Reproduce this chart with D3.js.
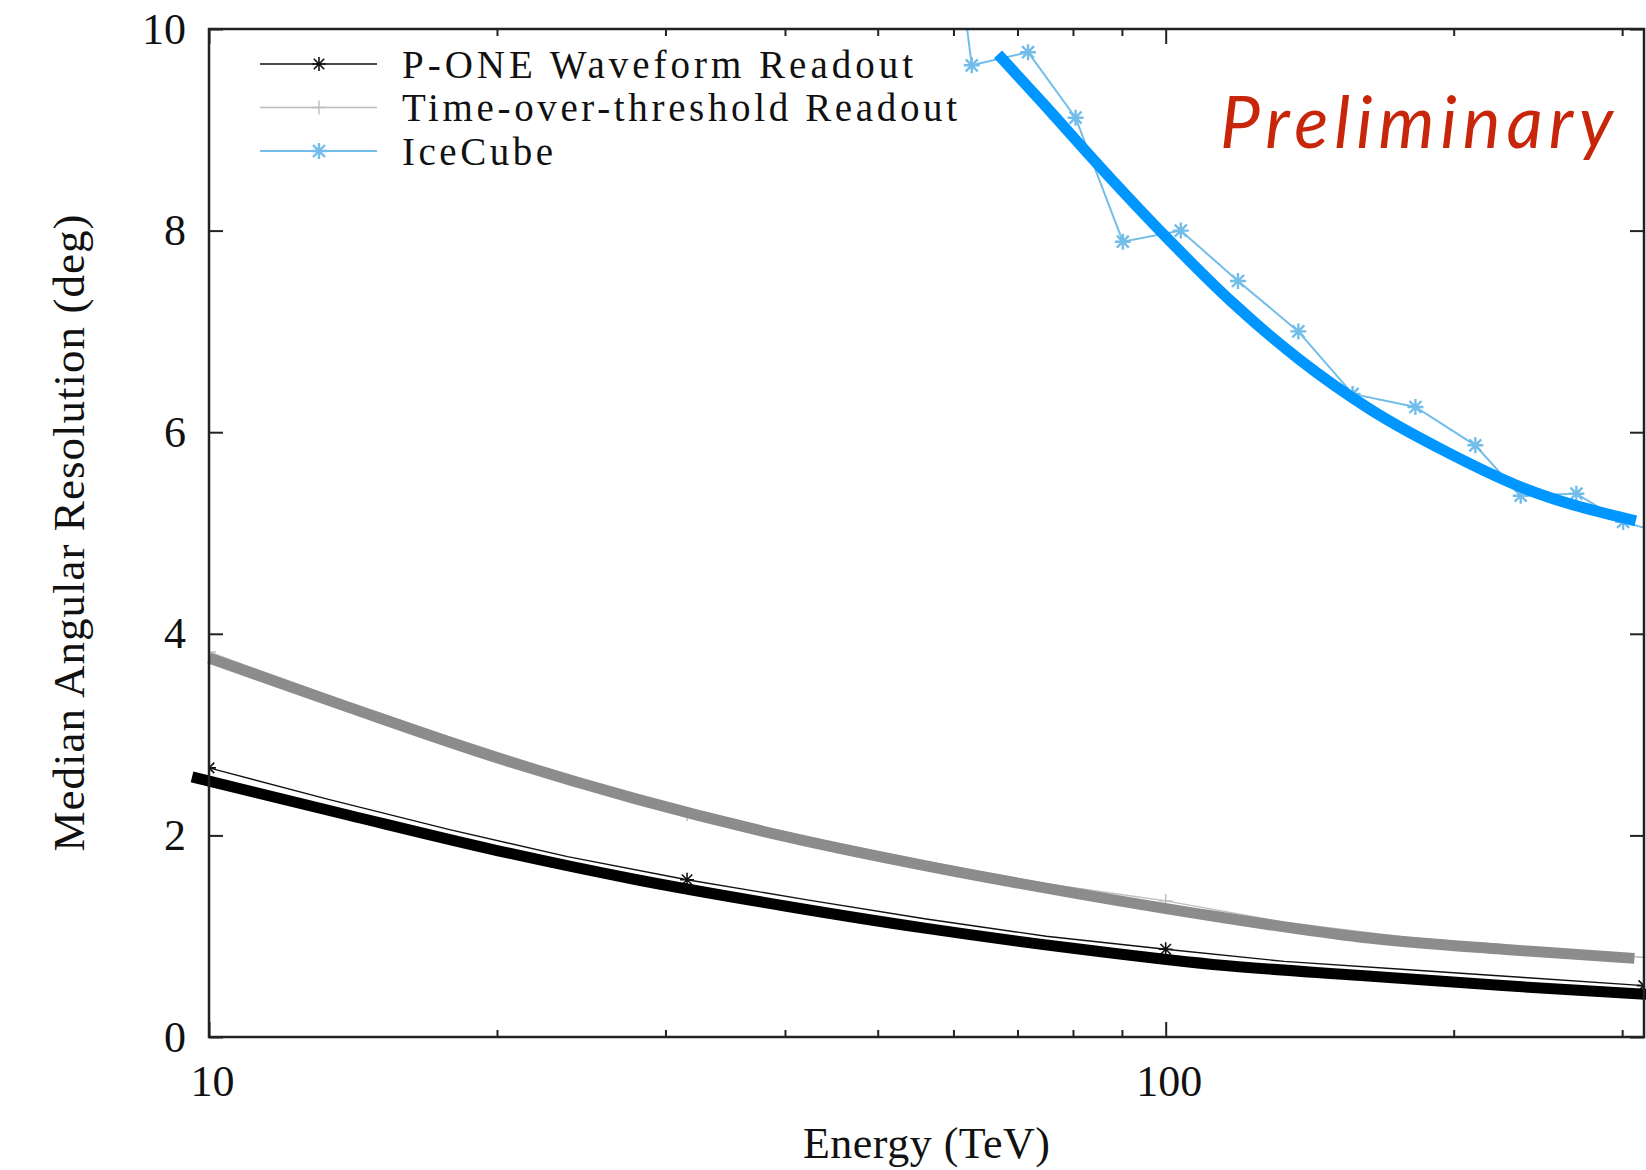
<!DOCTYPE html>
<html>
<head>
<meta charset="utf-8">
<script src="https://cdn.jsdelivr.net/npm/d3@7"></script>
<style>
  body { margin: 0; background: #fff; }
  svg { display: block; }
</style>
</head>
<body>
<div id="chart"></div>
<script>
// thin data series (energy in TeV, resolution in deg)
// markers only show on every 4th point (10, 31.6, 100, 316 TeV)
var pOneEnergy = [10, 13.3, 17.8, 23.7, 31.6, 42.2, 56.2, 75, 100, 133, 178, 237, 316];
var pOneWaveform = [2.67, 2.36, 2.06, 1.79, 1.56, 1.36, 1.17, 1.0, 0.87, 0.75, 0.67, 0.59, 0.51];
var totReadout = [3.82, 3.39, 2.98, 2.6, 2.21, 1.98, 1.74, 1.52, 1.35, 1.14, 0.99, 0.89, 0.79];

var iceCubeEnergy = [55, 62.7, 71.8, 80.5, 90.2, 103.7, 119, 137.6, 156.8, 182.4, 210.7, 235, 268.7, 300.7, 339];
var iceCubeRes = [13.9, 9.64, 9.77, 9.12, 7.89, 8.0, 7.5, 7.0, 6.38, 6.25, 5.87, 5.37, 5.39, 5.11, 4.97];

// thick fitted curves (knots)
var fitBlackEnergy = [9.6, 14, 20, 28, 40, 56, 80, 112, 160, 225, 322];
var fitBlack = [2.58, 2.20, 1.85, 1.56, 1.30, 1.08, 0.88, 0.72, 0.61, 0.51, 0.42];

var fitGrayEnergy = [10, 14, 20, 28, 40, 56, 80, 112, 160, 225, 309];
var fitGray = [3.76, 3.27, 2.77, 2.36, 1.99, 1.70, 1.43, 1.20, 0.99, 0.87, 0.78];

var fitBlueEnergy = [66.8, 74.3, 86, 100, 117, 138, 164, 197, 236, 310];
var fitBlue = [9.75, 9.27, 8.6, 7.94, 7.3, 6.72, 6.22, 5.8, 5.45, 5.12];

var xMajor = [10, 100];
var xMinor = [20, 30, 40, 50, 60, 70, 80, 90, 200, 300];
var yTicks = [0, 2, 4, 6, 8, 10];

var legendNames = ["P-ONE Waveform Readout", "Time-over-threshold Readout", "IceCube"];

var W = 1646, H = 1170;
var margin = {top: 29, right: 2, bottom: 133, left: 209};
var innerW = W - margin.left - margin.right;
var innerH = H - margin.top - margin.bottom;

var serif = "'Liberation Serif', 'Times New Roman', serif";

var svg = d3.select("#chart").append("svg")
    .attr("width", W)
    .attr("height", H);

var g = svg.append("g")
    .attr("transform", "translate(" + margin.left + "," + margin.top + ")");

var xScale = d3.scaleLog().domain([10, 316.2]).range([0, innerW]);
var yScale = d3.scaleLinear().domain([0, 10]).range([innerH, 0]);

svg.append("defs").append("clipPath").attr("id", "plotClip")
  .append("rect").attr("width", innerW).attr("height", innerH);

// axes, ticks point inward
function styleAxis(sel) {
    sel.select(".domain").remove();
    sel.selectAll(".tick line").attr("stroke", "#222").attr("stroke-width", 2);
    sel.selectAll("text")
        .attr("font-family", serif)
        .attr("font-size", 44)
        .attr("fill", "#111");
}

g.append("g")
    .attr("transform", "translate(0," + innerH + ")")
    .call(d3.axisBottom(xScale).tickValues(xMajor).tickFormat(d3.format("d")).tickSize(-15).tickPadding(28))
    .call(styleAxis)
    .selectAll("text").attr("dx", 3);
g.append("g")
    .attr("transform", "translate(0," + innerH + ")")
    .call(d3.axisBottom(xScale).tickValues(xMinor).tickFormat("").tickSize(-7))
    .call(styleAxis);
g.append("g")
    .call(d3.axisTop(xScale).tickValues(xMajor).tickFormat("").tickSize(-15))
    .call(styleAxis);
g.append("g")
    .call(d3.axisTop(xScale).tickValues(xMinor).tickFormat("").tickSize(-7))
    .call(styleAxis);

g.append("g")
    .call(d3.axisLeft(yScale).tickValues(yTicks).tickFormat(d3.format("d")).tickSize(-14).tickPadding(23))
    .call(styleAxis);
g.append("g")
    .attr("transform", "translate(" + innerW + ",0)")
    .call(d3.axisRight(yScale).tickValues(yTicks).tickFormat("").tickSize(-14))
    .call(styleAxis);

// marker shapes
function starPath(s) {
    var k = s * 0.75;
    return "M" + (-s) + ",0h" + (2 * s) + "M0," + (-s) + "v" + (2 * s) +
        "M" + (-k) + "," + (-k) + "l" + (2 * k) + "," + (2 * k) +
        "M" + (-k) + "," + k + "l" + (2 * k) + "," + (-2 * k);
}
function plusPath(s) {
    return "M" + (-s) + ",0h" + (2 * s) + "M0," + (-s) + "v" + (2 * s);
}

var series = [
    {name: legendNames[0], x: pOneEnergy, y: pOneWaveform, every: 4, color: "#111", width: 1.4, marker: starPath(7), mw: 1.6, len: 511},
    {name: legendNames[1], x: pOneEnergy, y: totReadout, every: 4, color: "#bdbdbd", width: 1.4, marker: plusPath(7), mw: 1.4, len: 555},
    {name: legendNames[2], x: iceCubeEnergy, y: iceCubeRes, every: 1, color: "#72bde9", width: 2, marker: starPath(8), mw: 2.4, len: 151}
];

var thin = g.append("g").attr("clip-path", "url(#plotClip)");
var lineGen = d3.line().x(d => xScale(d[0])).y(d => yScale(d[1]));

series.forEach(function(s) {
    var pts = s.x.map((v, i) => [v, s.y[i]]);
    thin.append("path")
        .attr("d", lineGen(pts))
        .attr("fill", "none")
        .attr("stroke", s.color)
        .attr("stroke-width", s.width);
    thin.selectAll(null)
        .data(pts.filter((d, i) => i % s.every == 0))
        .enter()
        .append("path")
        .attr("transform", d => "translate(" + xScale(d[0]) + "," + yScale(d[1]) + ")")
        .attr("d", s.marker)
        .attr("fill", "none")
        .attr("stroke", s.color)
        .attr("stroke-width", s.mw);
});

// thick fit curves
var fits = [
    {x: fitGrayEnergy, y: fitGray, color: "#8c8c8c"},
    {x: fitBlackEnergy, y: fitBlack, color: "#000"},
    {x: fitBlueEnergy, y: fitBlue, color: "#0096ff"}
];
var curveGen = d3.line().x(d => xScale(d[0])).y(d => yScale(d[1])).curve(d3.curveMonotoneX);

fits.forEach(function(f) {
    g.append("path")
        .attr("d", curveGen(f.x.map((v, i) => [v, f.y[i]])))
        .attr("fill", "none")
        .attr("stroke", f.color)
        .attr("stroke-width", 11);
});

// frame
g.append("rect")
    .attr("width", innerW)
    .attr("height", innerH)
    .attr("fill", "none")
    .attr("stroke", "#222")
    .attr("stroke-width", 2.5);

// legend
var legend = svg.append("g").attr("class", "legend");
series.forEach(function(s, i) {
    var yy = 64 + i * 43.5;
    legend.append("line")
        .attr("x1", 260).attr("x2", 377)
        .attr("y1", yy).attr("y2", yy)
        .attr("stroke", s.color)
        .attr("stroke-width", s.width);
    legend.append("path")
        .attr("transform", "translate(319," + yy + ")")
        .attr("d", s.marker)
        .attr("fill", "none")
        .attr("stroke", s.color)
        .attr("stroke-width", s.mw);
    legend.append("text")
        .attr("x", 402)
        .attr("y", yy)
        .attr("dy", "0.35em")
        .attr("font-family", serif)
        .attr("font-size", 39)
        .attr("textLength", s.len)
        .attr("fill", "#111")
        .text(s.name);
});

// axis titles
svg.append("text")
    .attr("x", margin.left + innerW / 2)
    .attr("y", 1158)
    .attr("text-anchor", "middle")
    .attr("font-family", serif)
    .attr("font-size", 44)
    .attr("textLength", 247)
    .attr("fill", "#111")
    .text("Energy (TeV)");

svg.append("text")
    .attr("transform", "translate(84," + (margin.top + innerH / 2) + ") rotate(-90)")
    .attr("text-anchor", "middle")
    .attr("font-family", serif)
    .attr("font-size", 45)
    .attr("textLength", 637)
    .attr("fill", "#111")
    .text("Median Angular Resolution (deg)");

svg.append("text")
    .attr("x", 1220)
    .attr("y", 148)
    .attr("font-family", "Lato, 'Open Sans', sans-serif")
    .attr("font-style", "italic")
    .attr("font-size", 71)
    .attr("textLength", 393)
    .attr("fill", "#c8260a")
    .text("Preliminary");
</script>
</body>
</html>
